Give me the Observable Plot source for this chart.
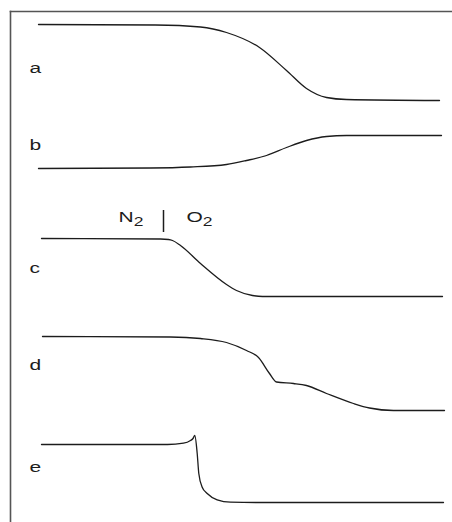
<!DOCTYPE html>
<html>
<head>
<meta charset="utf-8">
<script src="https://cdn.jsdelivr.net/npm/d3@7"></script>
<script src="https://cdn.jsdelivr.net/npm/@observablehq/plot@0.6"></script>
<style>
  html, body { margin: 0; padding: 0; background: #fff; }
  #chart svg { display: block; }
</style>
</head>
<body>
<div id="chart"></div>
<script>
// Recorder traces a–e: time (s) against signal (arbitrary units above each trace's final level)
const traceNames = ["a", "b", "c", "d", "e"];

const timeA = [-2, 115, 160, 186, 219, 246, 266, 286, 306, 399];
const sigA  = [76, 75.5, 73.5, 68, 53, 30, 12, 3, 1, 0];

const timeB = [-2, 110, 150, 186, 206, 226, 246, 266, 286, 306, 401];
const sigB  = [0, 0.5, 1.5, 4, 8, 13, 21, 28, 32, 33, 33];

const timeC = [1, 120, 128, 132, 140, 160, 186, 196, 212, 222, 402];
const sigC  = [58, 57.5, 57, 56, 51, 33, 12, 6, 1, 0, 0];

const timeD = [2, 130, 160, 186, 206, 218, 229, 236, 253, 266, 286, 313, 329, 353, 404];
const sigD  = [74, 73.5, 72, 68, 60, 53, 37, 28.5, 27, 25, 17, 7, 2.5, 0, 0];

const timeE = [1, 127, 143, 150, 152.5, 154.3, 156.7, 158.3, 161.7, 166.7, 176.7, 190, 219, 403];
const sigE  = [58, 58, 59.3, 62, 64, 67, 49, 29, 15.3, 9, 2.7, 0.3, 0, 0];

// Gas change from N2 to O2 (s), marked over trace c
const gasSwitch = 123;
const gasLabels = ["N2", "O2"];

// Layout: vertical stacking of the traces and where each letter sits
const offsets = [412, 344, 216, 102, 10];
const labelLevel = [32, 23, 28, 45, 35];

const times = [timeA, timeB, timeC, timeD, timeE];
const sigs = [sigA, sigB, sigC, sigD, sigE];

const rows = traceNames.flatMap((name, i) =>
  times[i].map((t, j) => ({trace: name, t, y: offsets[i] + sigs[i][j]}))
);
const labels = traceNames.map((name, i) => ({name, y: offsets[i] + labelLevel[i]}));
const cBase = offsets[2];

const ink = "#1c1c1c";
const textStretch = 1.4; // the lettering is set wide

const chart = Plot.plot({
  width: 452,
  height: 522,
  marginTop: 11,
  marginLeft: 10,
  marginRight: 0,
  marginBottom: 0,
  style: {fontFamily: "'Liberation Sans', Arial, sans-serif", fontSize: "15px", background: "#fff", color: ink},
  x: {domain: [0, 400], range: [40, 440], axis: null},
  y: {domain: [0, 512], range: [512, 0], axis: null},
  marks: [
    Plot.frame({anchor: "top", stroke: "#555", strokeWidth: 1.6}),
    Plot.frame({anchor: "left", stroke: "#555", strokeWidth: 1.6}),
    Plot.line(rows, {x: "t", y: "y", z: "trace", curve: "monotone-x", stroke: ink, strokeWidth: 1.3}),
    Plot.text(labels, {x: -11, y: "y", text: "name", textAnchor: "start", fill: ink}),
    Plot.ruleX([gasSwitch], {y1: cBase + 64, y2: cBase + 86, stroke: ink, strokeWidth: 1.5}),
    Plot.text([gasLabels[0]], {x: gasSwitch, y: cBase + 79, text: d => d, textAnchor: "end", dx: -20, fill: ink}),
    Plot.text([gasLabels[1]], {x: gasSwitch, y: cBase + 79, text: d => d, textAnchor: "start", dx: 23, fill: ink})
  ]
});

// Gas formulas get subscript digits; all lettering is widened about its anchor
d3.select(chart).selectAll("text").each(function() {
  const el = d3.select(this);
  const s = el.text();
  const m = /^([A-Z][a-z]?)(\d)$/.exec(s);
  if (m) {
    el.text(m[1]);
    el.append("tspan").attr("dy", "0.3em").attr("font-size", "12.5px").text(m[2]);
  }
  const x = +el.attr("x") || 0;
  const y = +el.attr("y") || 0;
  const tr = el.attr("transform") || "";
  el.attr("transform", `${tr} translate(${x},${y}) scale(${textStretch},1) translate(${-x},${-y})`);
});

document.getElementById("chart").append(chart);
</script>
</body>
</html>
